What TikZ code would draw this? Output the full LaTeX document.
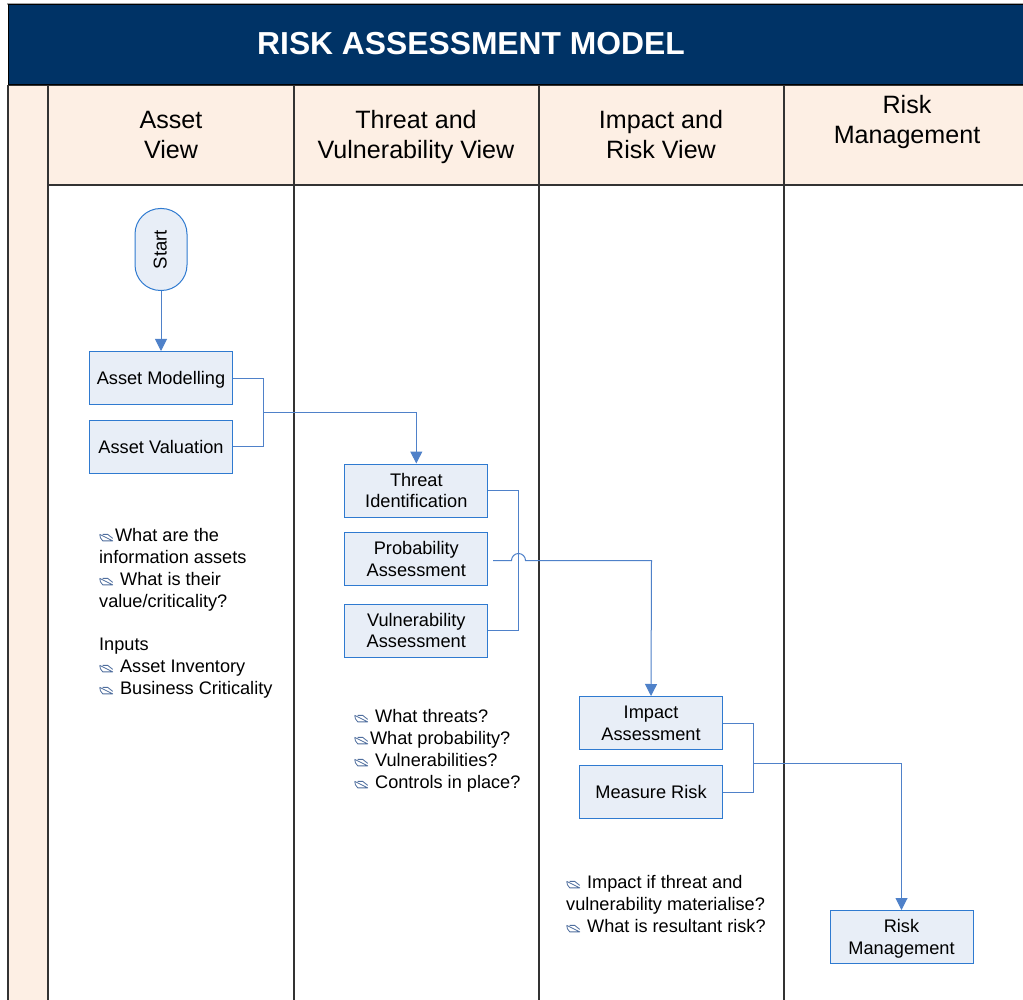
\documentclass[tikz,border=0pt]{standalone}
\usepackage{fontspec}
\setmainfont{Liberation Sans}
\usetikzlibrary{arrows.meta}
\definecolor{navy}{HTML}{003366}
\definecolor{peach}{HTML}{FDEFE4}
\definecolor{boxfill}{HTML}{E8EEF7}
\definecolor{boxline}{HTML}{2F7AD0}
\definecolor{linkcol}{HTML}{4F81C9}
\definecolor{lane}{HTML}{333333}
\definecolor{bul}{HTML}{4F6E9E}
\tikzset{
  lanerule/.style={draw=lane,line width=1.6pt},
  headtext/.style={font=\fontsize{25.1}{30}\selectfont,align=center,text=black,text depth=0pt},
  procbox/.style={draw=boxline,fill=boxfill,line width=1pt,minimum width=143pt,minimum height=53pt,inner sep=0pt,align=center,font=\fontsize{18.2}{21.7}\selectfont},
  link/.style={draw=linkcol,line width=1pt},
  linkarrow/.style={link,-{Triangle[length=12pt,width=12pt]}},
  notetext/.style={anchor=north west,inner sep=0pt,align=left,font=\fontsize{18.15}{22}\selectfont},
  bulicon/.pic={\draw[bul,line width=0.8pt,line join=round] (0,3) -- (13,-3.5) -- (3,-3.5) .. controls (1,-2) and (0,1) .. (0,3) (3,3) -- (8,3) -- (13,-1);}
}
\newcommand{\bu}{\tikz[baseline=-4pt,x=1pt,y=1pt]{\useasboundingbox (-0.5,-4) rectangle (15.4,4);\pic{bulicon};}}
\begin{document}
\begin{tikzpicture}[x=1pt,y=-1pt]
\useasboundingbox (0,0) rectangle (1023,1000);
\fill[white] (0,0) rectangle (1023,1000);
% title
\fill[black!35] (7,3) rectangle (1023,5);
\node[draw=black,line width=1pt,fill=navy,minimum width=1030pt,minimum height=80pt,inner sep=0pt,anchor=north west] (titlebar) at (8,4.5) {};
\node[text=white,font=\bfseries\fontsize{31.8}{36}\selectfont] (title) at (471,43.8) {RISK ASSESSMENT MODEL};
% header band
\fill[peach] (8,85) rectangle (1023,185);
\fill[peach] (8,185) rectangle (48,1000);
\draw[lanerule] (8,85)--(8,1000);
\draw[lanerule] (48,85)--(48,1000);
\draw[lanerule] (294,85)--(294,1000);
\draw[lanerule] (539,85)--(539,1000);
\draw[lanerule] (784,85)--(784,1000);
\draw[lanerule] (8,85.5)--(1023,85.5);
\draw[lanerule,line width=1.2pt] (48,185)--(1023,185);
\node[headtext] (h1) at (171,135) {Asset\\View};
\node[headtext] (h2) at (416,134.2) {Threat and\\Vulnerability View};
\node[headtext] (h3) at (661,134.2) {Impact and\\Risk View};
\node[headtext] (h4) at (907,119.2) {Risk\\Management};
% nodes
\node[draw=boxline,fill=boxfill,line width=1pt,rounded corners=25.5pt,minimum width=52pt,minimum height=82pt,inner sep=0pt] (start) at (161,249.5) {\rotatebox{90}{\raisebox{1pt}[13pt][0pt]{\fontsize{18.6}{20}\selectfont Start}}};
\node[procbox,text depth=0pt] (am) at (161,378) {Asset Modelling};
\node[procbox,text height=15pt] (av) at (161,446.5) {Asset Valuation};
\node[procbox] (ti) at (416.3,490.5) {Threat\\Identification};
\node[procbox] (pa) at (416.3,559) {Probability\\Assessment};
\node[procbox] (va) at (416.3,630.5) {Vulnerability\\Assessment};
\node[procbox] (ia) at (651,723) {Impact\\Assessment};
\node[procbox] (mr) at (651,792) {Measure Risk};
\node[procbox,text depth=0pt] (rm) at (901.5,937) {Risk\\Management};
% notes
\node[notetext] (n1) at (99,528) {\bu What are the\\information assets\\\bu\ What is their\\value/criticality?\\[21pt]Inputs\\\bu\ Asset Inventory\\\bu\ Business Criticality};
\node[notetext] (n2) at (354,709) {\bu\ What threats?\\\bu What probability?\\\bu\ Vulnerabilities?\\\bu\ Controls in place?};
\node[notetext] (n3) at (566,875) {\bu\ Impact if threat and\\vulnerability materialise?\\\bu\ What is resultant risk?};
% connectors
\coordinate (j1) at (263,412.5);
\coordinate (j3) at (753,763.5);
\coordinate (pa0) at (493,560.5);
\draw[linkarrow] (start) -- (am);
\draw[link] (am.east) -| (j1);
\draw[link] (av.east) -| (j1);
\draw[linkarrow] (j1) -| (ti.north);
\draw[link] (ti.east) -| (518.5,630.5) -- (va.east);
\draw[linkarrow] (pa0) -- (511.5,560.5) arc[start angle=180,end angle=360,radius=7] -- (651.5,560.5) -- (ia.north);
\draw[link] (ia.east) -| (j3);
\draw[link] (mr.east) -| (j3);
\draw[linkarrow] (j3) -| (rm.north);
\end{tikzpicture}
\end{document}
